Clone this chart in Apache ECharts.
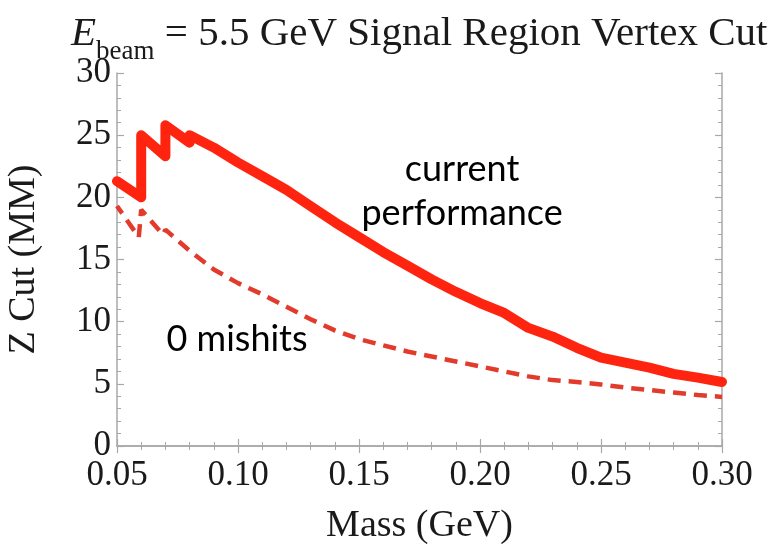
<!DOCTYPE html>
<html>
<head>
<meta charset="utf-8">
<script src="https://cdn.jsdelivr.net/npm/echarts@6/dist/echarts.min.js"></script>
<style>
  html, body { margin: 0; padding: 0; background: #fff; }
  #chart { width: 773px; height: 544px; }
</style>
</head>
<body>
<div id="chart"></div>
<script>
// Vertex Z cut versus A' mass, 5.5 GeV beam
const massCurrent = [0.05, 0.06, 0.06, 0.07, 0.07, 0.08, 0.08, 0.09, 0.10, 0.11, 0.12, 0.13, 0.14, 0.15,
  0.16, 0.17, 0.18, 0.19, 0.20, 0.21, 0.22, 0.23, 0.24, 0.25, 0.26, 0.27, 0.28, 0.29, 0.30];
const zCutCurrent = [21.3, 20.0, 25.0, 23.3, 25.8, 24.4, 25.0, 24.0, 22.8, 21.7, 20.6, 19.3, 18.0, 16.8,
  15.6, 14.5, 13.4, 12.4, 11.5, 10.7, 9.5, 8.8, 7.9, 7.1, 6.7, 6.3, 5.8, 5.5, 5.15];

const massZeroMiss = [0.05, 0.059, 0.06, 0.069, 0.07, 0.08, 0.09, 0.10, 0.11, 0.12, 0.13, 0.14, 0.15,
  0.16, 0.17, 0.18, 0.19, 0.20, 0.21, 0.22, 0.23, 0.24, 0.25, 0.26, 0.27, 0.28, 0.29, 0.30];
const zCutZeroMiss = [19.3, 16.8, 19.0, 17.0, 17.4, 15.7, 14.2, 13.1, 12.2, 11.2, 10.2, 9.3, 8.6,
  8.1, 7.6, 7.2, 6.8, 6.4, 6.0, 5.6, 5.3, 5.15, 4.95, 4.7, 4.5, 4.3, 4.1, 3.95];

const xTicks = { min: 0.05, max: 0.30, interval: 0.05 };
const yTicks = { min: 0, max: 30, interval: 5 };

const pairs = (xs, ys) => xs.map((x, i) => [x, ys[i]]);

const serif = 'Liberation Serif';
const ink = '#1a1a1a';
const frameColor = '#a8a8a8';

const chart = echarts.init(document.getElementById('chart'), null, { renderer: 'canvas' });

function frameAxis(extra) {
  return Object.assign({
    type: 'value',
    axisLine: { show: true, lineStyle: { color: frameColor, width: 1.5 } },
    axisTick: { show: true, inside: true, length: 7, lineStyle: { color: frameColor, width: 1.2 } },
    minorTick: { show: true, splitNumber: 5, length: 4, lineStyle: { color: frameColor, width: 1 } },
    splitLine: { show: false },
    minorSplitLine: { show: false }
  }, extra);
}

chart.setOption({
  animation: false,
  backgroundColor: '#ffffff',
  title: {
    left: 66,
    top: 6,
    text: '{e|E}{sub|beam}{t| = 5.5 GeV Signal Region Vertex Cut}',
    textStyle: {
      fontWeight: 'normal',
      rich: {
        e: { fontFamily: serif, fontStyle: 'italic', fontWeight: 'normal', fontSize: 41, color: ink, verticalAlign: 'bottom', lineHeight: 44 },
        sub: { fontFamily: serif, fontWeight: 'normal', fontSize: 27, color: ink, verticalAlign: 'bottom', lineHeight: 28, padding: [0, 0, -10, 0] },
        t: { fontFamily: serif, fontWeight: 'normal', fontSize: 41, color: ink, verticalAlign: 'bottom', lineHeight: 44 }
      }
    }
  },
  grid: { left: 117, right: 51, top: 73, bottom: 98, containLabel: false, outerBoundsMode: 'none' },
  xAxis: [
    frameAxis(Object.assign({}, xTicks, {
      position: 'bottom',
      name: 'Mass (GeV)',
      nameLocation: 'middle',
      nameGap: 61,
      nameTextStyle: { fontFamily: serif, fontSize: 38, color: ink },
      axisLabel: {
        show: true, margin: 12, fontFamily: serif, fontSize: 35, color: ink,
        formatter: v => v.toFixed(2)
      }
    })),
    frameAxis(Object.assign({}, xTicks, { position: 'top', axisLabel: { show: false } }))
  ],
  yAxis: [
    frameAxis(Object.assign({}, yTicks, {
      position: 'left',
      name: 'Z Cut (MM)',
      nameLocation: 'middle',
      nameGap: 74,
      nameRotate: 90,
      nameTextStyle: { fontFamily: serif, fontSize: 38, color: ink },
      axisLabel: {
        show: true, margin: 6, fontFamily: serif, fontSize: 35, color: ink,
        formatter: v => String(v)
      }
    })),
    frameAxis(Object.assign({}, yTicks, { position: 'right', axisLabel: { show: false } }))
  ],
  series: [
    {
      name: 'current performance',
      type: 'line',
      data: pairs(massCurrent, zCutCurrent),
      showSymbol: false,
      symbol: 'none',
      lineStyle: { color: '#ff2410', width: 10, join: 'round', cap: 'round' },
      z: 3
    },
    {
      name: '0 mishits',
      type: 'line',
      data: pairs(massZeroMiss, zCutZeroMiss),
      showSymbol: false,
      symbol: 'none',
      lineStyle: { color: '#e23b2c', width: 4.5, type: [13, 8], dashOffset: 4 },
      z: 2
    }
  ]
});

// annotations placed in data space
const cp = chart.convertToPixel({ gridIndex: 0 }, [0.1926, 20.5]);
const zm = chart.convertToPixel({ gridIndex: 0 }, [0.0996, 8.6]);
chart.setOption({
  graphic: [
    {
      type: 'text', x: cp[0], y: cp[1],
      style: {
        text: 'current\nperformance', align: 'center', verticalAlign: 'middle',
        font: '36px Lato', lineHeight: 44, fill: '#000'
      }
    },
    {
      type: 'text', x: zm[0], y: zm[1],
      style: {
        text: '0 mishits', align: 'center', verticalAlign: 'middle',
        font: '36px Lato', fill: '#000'
      }
    }
  ]
});
</script>
</body>
</html>
